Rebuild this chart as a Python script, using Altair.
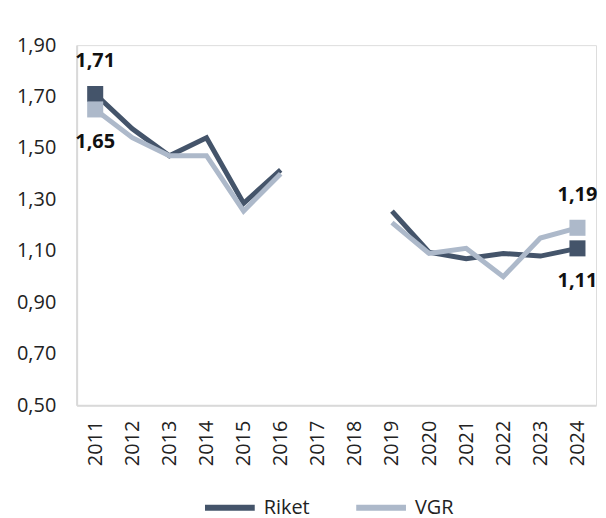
import altair as alt
import pandas as pd

years = [str(y) for y in range(2011, 2025)]
riket = [1.71, 1.575, 1.47, 1.54, 1.285, 1.415, None, None, 1.255, 1.095, 1.07, 1.09, 1.08, 1.11]
vgr = [1.65, 1.54, 1.47, 1.47, 1.255, 1.40, None, None, 1.21, 1.09, 1.11, 1.00, 1.15, 1.19]
series = ["Riket", "VGR"]
colors = ["#44546A", "#ADB9CA"]

rows = []
for name, vals in zip(series, [riket, vgr]):
    seg = 0
    for yr, v in zip(years, vals):
        if v is None:
            seg = 1
            continue
        rows.append({"year": yr, "value": v, "series": name, "seg": f"{name}-{seg}"})
df = pd.DataFrame(rows)

ends = df[df["year"].isin(["2011", "2024"])].copy()
ends["label"] = ends["value"].map(lambda v: f"{v:.2f}".replace(".", ","))

FS = 20
xenc = alt.X("year:O", scale=alt.Scale(domain=years, padding=0.5),
             axis=alt.Axis(title=None, labelAngle=270, labelFontSize=FS, labelColor="#222",
                           ticks=False, domainColor="#d9d9d9", domainWidth=2, labelPadding=15,
                           labelBaseline="middle", labelAlign="right"))
yenc = alt.Y("value:Q", scale=alt.Scale(domain=[0.5, 1.9], nice=False, zero=False),
             axis=alt.Axis(title=None, values=[0.5, 0.7, 0.9, 1.1, 1.3, 1.5, 1.7, 1.9],
                           labelExpr="replace(format(datum.value, '.2f'), '.', ',')",
                           labelFontSize=FS, labelColor="#222", ticks=False, grid=False,
                           domainColor="#d9d9d9", domainWidth=2, labelPadding=21))
color = alt.Color("series:N", scale=alt.Scale(domain=series, range=colors),
                  legend=alt.Legend(title=None, orient="none", direction="horizontal",
                                    legendX=126, legendY=437, symbolType="stroke",
                                    symbolStrokeWidth=6, symbolSize=2500, labelFontSize=FS,
                                    labelColor="#222", columnPadding=34, labelOffset=6))

base = alt.Chart(df)
lines = base.mark_line(strokeWidth=5).encode(x=xenc, y=yenc, color=color, detail="seg:N")
pts = alt.Chart(ends).mark_square(size=260, opacity=1).encode(
    x=xenc, y=yenc,
    color=alt.Color("series:N", scale=alt.Scale(domain=series, range=colors), legend=None))

above = ends[((ends["series"] == "Riket") & (ends["year"] == "2011")) | ((ends["series"] == "VGR") & (ends["year"] == "2024"))]
below = ends[((ends["series"] == "VGR") & (ends["year"] == "2011")) | ((ends["series"] == "Riket") & (ends["year"] == "2024"))]

t_above = alt.Chart(above).mark_text(fontSize=FS, fontWeight="bold", color="#111", dy=-33).encode(x=xenc, y=yenc, text="label:N")
t_below = alt.Chart(below).mark_text(fontSize=FS, fontWeight="bold", color="#111", dy=33).encode(x=xenc, y=yenc, text="label:N")

chart = alt.layer(lines, pts, t_above, t_below).properties(
    width=522, height=362, padding={"left": 8, "top": 26, "right": 0, "bottom": 0}
).configure_view(stroke=None).configure(font="Open Sans")

chart.save("out.html", embed_options={"renderer": "svg", "actions": False})
